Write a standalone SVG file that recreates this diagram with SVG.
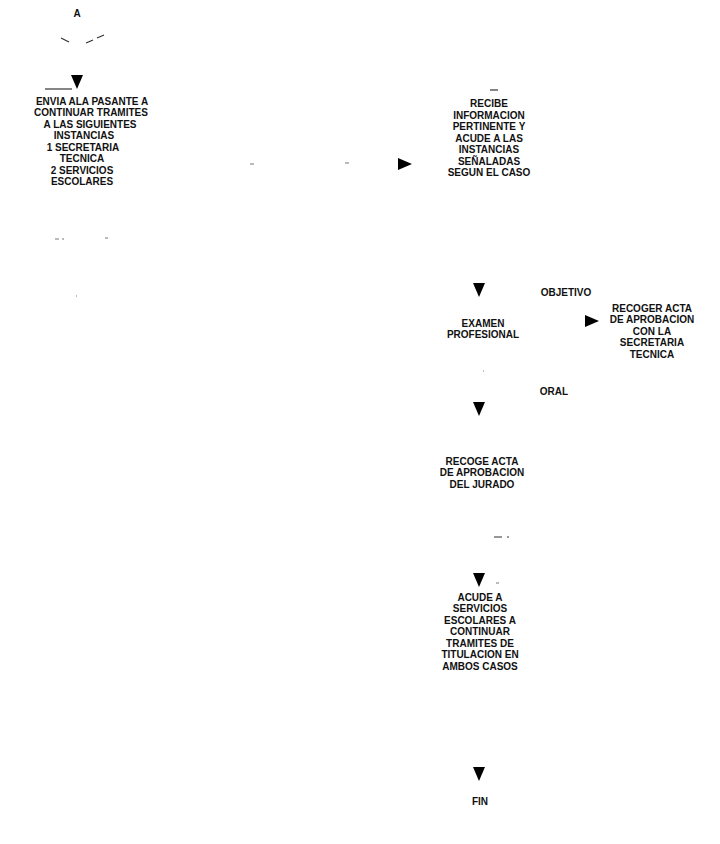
<svg xmlns="http://www.w3.org/2000/svg" width="720" height="844" viewBox="0 0 720 844">
<style>
text{font-family:"Liberation Sans",Arial,sans-serif;font-size:10px;font-weight:bold;fill:#111;text-anchor:middle}
.ah{fill:#000}
.fr{stroke:#333;stroke-width:1.2;fill:none}
.fl{stroke:#777;stroke-width:1;fill:none}
</style>
<defs>
<polygon id="down" class="ah" points="-6,-7 6,-7 0,7"/>
<polygon id="right" class="ah" points="-7,-6 7,0 -7,6"/>
</defs>
<rect width="720" height="844" fill="#fff"/>
<g id="connectors">
<path class="fr" d="M61,38 L69,42 M86,43 L93,40 M97,38 L104,35"/>
<path class="fr" d="M45,89 L72,89"/>
<use href="#down" x="77" y="82"/>
<path class="fl" d="M55,239 L59,239 M62,239 L64,239 M105,238 L108,238"/>
<path class="fl" d="M76,296 L77,296"/>
<path class="fl" d="M250,164 L254,164 M345,163 L349,163"/>
<use href="#right" x="405" y="164"/>
<path class="fr" d="M490,90 L498,90"/>
<use href="#down" x="479" y="290"/>
<use href="#right" x="592" y="321"/>
<path class="fl" d="M483,371 L484,371"/>
<use href="#down" x="479" y="409"/>
<path class="fr" d="M494,537 L502,537 M507,537 L509,537"/>
<use href="#down" x="479" y="580"/>
<path class="fl" d="M496,583 L499,583"/>
<use href="#down" x="479" y="774"/>
</g>
<g id="start"><text x="77" y="16.5">A</text></g>
<g id="envia">
<text x="92" y="104.5">ENVIA ALA PASANTE A</text>
<text x="91" y="116">CONTINUAR TRAMITES</text>
<text x="90" y="127.5">A LAS SIGUIENTES</text>
<text x="84" y="139">INSTANCIAS</text>
<text x="83" y="150.5">1  SECRETARIA</text>
<text x="82" y="162">TECNICA</text>
<text x="82" y="173.5">2  SERVICIOS</text>
<text x="82" y="185">ESCOLARES</text>
</g>
<g id="recibe">
<text x="489" y="107">RECIBE</text>
<text x="489" y="118.5">INFORMACION</text>
<text x="489" y="130">PERTINENTE Y</text>
<text x="489" y="141.5">ACUDE A LAS</text>
<text x="489" y="153">INSTANCIAS</text>
<text x="489" y="164.5">SEÑALADAS</text>
<text x="489" y="176">SEGUN EL CASO</text>
</g>
<g id="objetivo"><text x="566" y="295.5">OBJETIVO</text></g>
<g id="examen">
<text x="483" y="326.5">EXAMEN</text>
<text x="483" y="338">PROFESIONAL</text>
</g>
<g id="recoger">
<text x="652" y="311.5">RECOGER ACTA</text>
<text x="652" y="323">DE APROBACION</text>
<text x="652" y="334.5">CON LA</text>
<text x="652" y="346">SECRETARIA</text>
<text x="652" y="357.5">TECNICA</text>
</g>
<g id="oral"><text x="554" y="394.5">ORAL</text></g>
<g id="recoge">
<text x="482" y="464.5">RECOGE ACTA</text>
<text x="482" y="476">DE APROBACION</text>
<text x="482" y="487.5">DEL JURADO</text>
</g>
<g id="acude">
<text x="480" y="600.5">ACUDE A</text>
<text x="480" y="612">SERVICIOS</text>
<text x="480" y="623.5">ESCOLARES A</text>
<text x="480" y="635">CONTINUAR</text>
<text x="480" y="646.5">TRAMITES DE</text>
<text x="480" y="658">TITULACION EN</text>
<text x="480" y="669.5">AMBOS CASOS</text>
</g>
<g id="fin"><text x="480" y="804.5">FIN</text></g>
</svg>
